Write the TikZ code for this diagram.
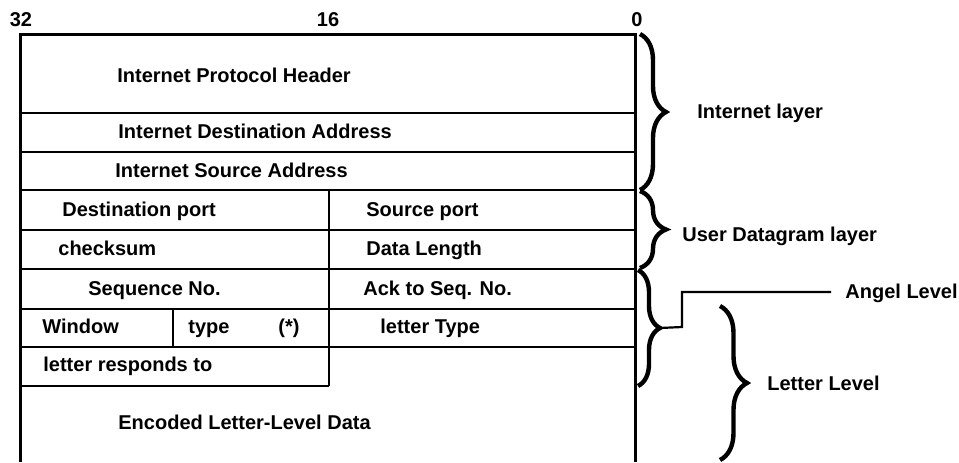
\documentclass[tikz,border=0pt]{standalone}
\usepackage{fontspec}
\setmainfont{Liberation Sans}
\usetikzlibrary{decorations.pathreplacing}

\begin{document}
\begin{tikzpicture}[x=0.5pt,y=-0.5pt,
    lbl/.style={font=\bfseries, inner sep=0pt, anchor=west,
      text height=1.6ex, text depth=.45ex},
    num/.style={font=\bfseries, inner sep=0pt},
    frame/.style={line width=1.5pt},
    rule/.style={line width=1.1pt},
    lbrace/.style={decorate, decoration={brace, amplitude=#1}, line width=2.2pt}]
  \useasboundingbox (0,0) rectangle (959,462);

  % Bit numbers
  \node[num] (n32) at (21,20) {32};
  \node[num] (n16) at (328,20) {16};
  \node[num] (n0) at (637,20) {0};

  % Outer frame, open at the bottom
  \draw[frame] (20,462) -- (20,34) -- (635,34) -- (635,462);

  % Row rules
  \foreach \y in {113,152,190,230,269,309,347}
    \draw[rule] (20,\y) -- (635,\y);
  \draw[rule] (20,386) -- (329,386);
  \draw[rule] (329,190) -- (329,386);
  \draw[rule] (173,309) -- (173,347);

  % Field names
  \node[lbl] (iph) at (117,76) {Internet Protocol Header};
  \node[lbl] (ida) at (118,132) {Internet Destination Address};
  \node[lbl] (isa) at (115,171) {Internet Source Address};
  \node[lbl] (dport) at (62,210) {Destination port};
  \node[lbl] (sport) at (366,210) {Source port};
  \node[lbl] (csum) at (58,249) {checksum};
  \node[lbl] (dlen) at (366,249) {Data Length};
  \node[lbl] (seq) at (88,289) {Sequence No.};
  \node[lbl] (ack) at (363,289) {Ack to Seq. No.};
  \node[lbl] (win) at (42,327) {Window};
  \node[lbl] (typ) at (188,327) {type};
  \node[lbl] (star) at (278,327) {(*)};
  \node[lbl] (ltype) at (380,327) {letter Type};
  \node[lbl] (resp) at (43,365) {letter responds to};
  \node[lbl] (enc) at (118,423) {Encoded Letter-Level Data};

  % Layer braces
  \draw[lbrace=13pt] (640,34) -- (640,190);
  \draw[lbrace=13pt] (640,191) -- (640,268);
  \draw[lbrace=11pt] (638,270) -- (638,386);
  \draw[lbrace=13.5pt] (720,306) -- (720,460);

  % Layer names
  \node[lbl] (inet) at (697,112) {Internet layer};
  \node[lbl] (udl) at (682,235) {User Datagram layer};
  \node[lbl] (angel) at (845,292) {Angel Level};
  \node[lbl] (letter) at (767,384) {Letter Level};

  % Angel level leader
  \coordinate (tipC) at (660,328);
  \draw[rule] (tipC) -- ++(22,-1) |- ([xshift=-7pt]angel.west);
\end{tikzpicture}
\end{document}
